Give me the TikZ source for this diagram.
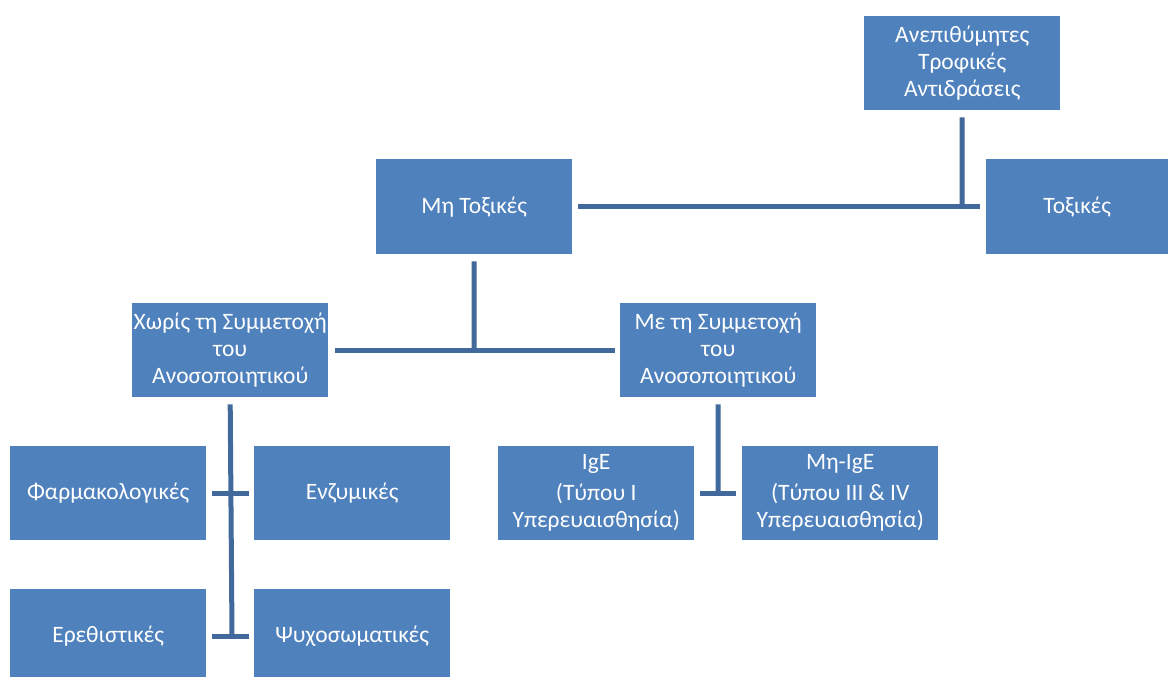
\documentclass[tikz,border=0pt]{standalone}
\usepackage{fontspec}
\setmainfont{Carlito}
\definecolor{boxblue}{HTML}{4F81BD}
\definecolor{linkblue}{HTML}{41699C}
\begin{document}
\begin{tikzpicture}[x=1pt,y=-1pt,
  box/.style={fill=boxblue,draw=none,text=white,minimum width=196pt,minimum height=94pt,
    inner sep=0pt,align=center,font=\fontsize{23.5}{27}\selectfont,anchor=north west},
  link/.style={draw=linkblue,line width=5pt}]
\useasboundingbox (0,0) rectangle (1168,677);
\node[box] (top) at (864,16) {Ανεπιθύμητες\\Τροφικές\\Αντιδράσεις};
\node[box,minimum width=182pt,minimum height=95pt] (tox) at (986,159) {Τοξικές};
\node[box,minimum height=95pt] (ntox) at (376,159) {Μη Τοξικές};
\node[box] (xor) at (132,303) {Χωρίς τη Συμμετοχή\\του\\Ανοσοποιητικού};
\node[box] (me) at (620,303) {Με τη Συμμετοχή\\του\\Ανοσοποιητικού};
\node[box] (farm) at (10,446) {Φαρμακολογικές};
\node[box] (enz) at (254,446) {Ενζυμικές};
\node[box] (ereth) at (10,589) {Ερεθιστικές};
\node[box] (psy) at (254,589) {Ψυχοσωματικές};
\node[box] (ige) at (498,446) {IgE\\[4pt](Τύπου Ι\\Υπερευαισθησία)};
\node[box] (nige) at (742,446) {Μη-IgE\\[4pt](Τύπου ΙΙΙ \& IV\\Υπερευαισθησία)};
% connectors
\coordinate (j1) at (962,207);
\draw[link] ([yshift=-7pt]top.south) -- (j1);
\draw[link] ([xshift=6pt]ntox.east) -- ([xshift=-6pt]tox.west);
\coordinate (j2) at (474,350);
\draw[link] ([yshift=-7pt]ntox.south) -- (j2);
\draw[link] ([xshift=7pt]xor.east) -- ([xshift=-5pt]me.west);
\coordinate (v1b) at (232,635);
\draw[link] ([yshift=-7pt]xor.south) -- (v1b);
\draw[link] ([xshift=6pt]farm.east) -- ([xshift=-5pt]enz.west);
\draw[link] ([xshift=6pt]ereth.east) -- ([xshift=-5pt]psy.west);
\coordinate (v2b) at (718,492);
\draw[link] ([yshift=-7pt]me.south) -- (v2b);
\draw[link] ([xshift=6pt]ige.east) -- ([xshift=-6pt]nige.west);
\end{tikzpicture}
\end{document}
